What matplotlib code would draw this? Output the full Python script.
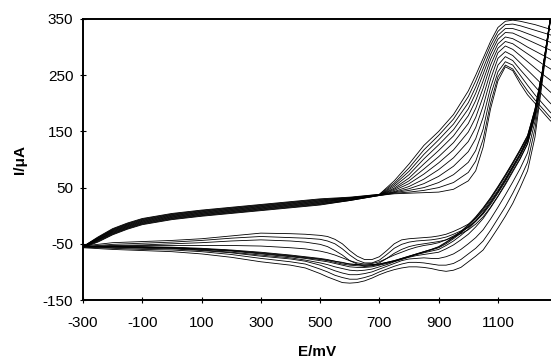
import numpy as np
import matplotlib
matplotlib.use('Agg')
import matplotlib.pyplot as plt

plt.rcParams['font.family'] = ['Liberation Sans', 'DejaVu Sans']
plt.rcParams['axes.unicode_minus'] = False

# potential grid of the forward (upper) branch, mV
fwd_e = [-300, -250, -200, -150, -100, 0, 100, 200, 300, 400, 500, 600, 700,
         750, 800, 850, 900, 950, 1000, 1025, 1050, 1075, 1100, 1125, 1150,
         1175, 1200, 1225, 1250, 1275, 1300]

# forward branch current, uA, one row per cycle (outer -> inner)
fwd_i = [
    [-55, -38, -23, -13, -5, 4, 10, 15, 20, 25, 30, 33, 38,
     62, 92, 125, 150, 180, 222, 250, 280, 310, 335, 346, 348, 346, 343, 340, 336, 332, 328],
    [-55, -39, -24, -14, -6, 3, 9, 14, 19, 24, 29, 32, 38,
     58, 85, 117, 143, 172, 212, 240, 272, 303, 328, 340, 341, 338, 334, 330, 326, 322, 318],
    [-55, -40, -25, -15, -7, 2, 8, 13, 18, 23, 28, 32, 37,
     55, 79, 109, 135, 163, 201, 229, 262, 295, 321, 333, 333, 329, 324, 319, 314, 309, 304],
    [-55, -40, -26, -16, -8, 1, 7, 12, 17, 22, 27, 31, 37,
     52, 73, 101, 126, 153, 190, 218, 252, 287, 314, 326, 325, 319, 313, 307, 301, 295, 289],
    [-55, -41, -27, -17, -9, 0, 6, 11, 16, 21, 26, 31, 37,
     49, 67, 92, 116, 142, 178, 205, 240, 278, 306, 318, 315, 308, 300, 293, 286, 279, 272],
    [-55, -42, -28, -18, -10, -1, 5, 10, 15, 20, 25, 30, 37,
     47, 62, 83, 105, 130, 164, 191, 227, 268, 298, 310, 306, 297, 288, 279, 270, 262, 254],
    [-55, -43, -29, -19, -11, -2, 4, 9, 14, 19, 24, 30, 37,
     45, 57, 74, 94, 117, 149, 175, 212, 256, 290, 302, 296, 285, 274, 263, 252, 242, 233],
    [-55, -43, -30, -20, -12, -3, 3, 8, 13, 18, 23, 29, 37,
     43, 52, 65, 82, 103, 132, 157, 195, 243, 280, 292, 285, 272, 259, 246, 233, 221, 210],
    [-56, -44, -31, -21, -13, -4, 2, 7, 12, 17, 22, 28, 37,
     42, 48, 57, 70, 88, 114, 137, 175, 228, 268, 283, 276, 260, 245, 230, 215, 201, 189],
    [-56, -45, -32, -22, -14, -5, 1, 6, 11, 16, 21, 28, 36,
     41, 45, 50, 59, 73, 95, 116, 154, 214, 256, 274, 268, 250, 232, 215, 200, 185, 172],
    [-56, -46, -33, -23, -15, -6, 0, 5, 10, 15, 20, 27, 36,
     40, 42, 45, 50, 59, 77, 97, 136, 200, 247, 268, 261, 241, 222, 206, 191, 176, 163],
    [-57, -47, -34, -24, -16, -7, -1, 4, 9, 14, 19, 27, 36,
     39, 40, 41, 42, 47, 62, 80, 122, 190, 240, 265, 258, 235, 215, 200, 185, 170, 158],
]

# potential grid of the reverse (lower) branch, mV
rev_e = [1300, 1275, 1250, 1225, 1200, 1175, 1150, 1125, 1100, 1075, 1050, 1025,
         1000, 975, 950, 925, 900, 875, 850, 825, 800, 775, 750, 725, 700, 675,
         650, 625, 600, 575, 550, 525, 500, 450, 400, 300, 200, 100, 0, -100,
         -200, -300]

# reverse branch current, uA, one row per cycle
rev_i = [
    [430, 345, 255, 185, 138, 110, 88, 66, 45, 26, 8, -5, -15, -22, -28, -33, -36,
     -38, -39, -40, -41, -43, -50, -62, -73, -78, -78, -72, -62, -50, -42, -37, -35,
     -33, -32, -31, -36, -41, -44, -46, -48, -54],
    [425, 343, 252, 180, 133, 106, 84, 61, 40, 20, 3, -10, -20, -27, -33, -38, -41,
     -43, -44, -45, -47, -51, -58, -69, -79, -84, -84, -79, -70, -59, -50, -45, -42,
     -40, -39, -37, -40, -44, -47, -49, -51, -55],
    [420, 340, 250, 176, 128, 102, 80, 57, 35, 15, -2, -15, -25, -32, -38, -43, -46,
     -48, -50, -52, -55, -60, -67, -76, -84, -89, -90, -86, -80, -70, -62, -55, -51,
     -47, -45, -43, -45, -48, -50, -52, -53, -55],
    [420, 342, 245, 155, 95, 66, 40, 16, -5, -26, -45, -58, -68, -78, -85, -88, -88,
     -86, -84, -83, -83, -86, -90, -95, -100, -106, -110, -113, -113, -110, -106, -100,
     -95, -86, -82, -76, -69, -64, -61, -60, -58, -56],
    [420, 340, 240, 140, 80, 50, 22, -1, -22, -42, -61, -72, -82, -92, -97, -99, -97,
     -94, -92, -91, -91, -93, -96, -100, -105, -111, -116, -119, -120, -119, -114, -109,
     -103, -93, -88, -82, -74, -68, -64, -62, -60, -57],
    [418, 343, 250, 168, 112, 84, 60, 37, 15, -6, -25, -39, -50, -60, -68, -73, -76,
     -76, -75, -76, -77, -80, -85, -90, -95, -100, -103, -105, -105, -102, -98, -93,
     -88, -81, -77, -72, -66, -62, -59, -58, -57, -55],
    [417, 344, 254, 178, 128, 101, 78, 55, 34, 14, -5, -20, -33, -43, -52, -59, -65,
     -67, -69, -71, -74, -78, -82, -87, -91, -95, -97, -98, -97, -94, -91, -87, -84,
     -79, -75, -70, -65, -61, -58, -57, -56, -55],
    [416, 344, 256, 184, 136, 110, 87, 64, 43, 23, 5, -10, -24, -35, -45, -53, -60,
     -63, -66, -69, -73, -77, -81, -85, -88, -91, -92, -92, -91, -88, -85, -82, -80,
     -76, -73, -68, -63, -60, -57, -56, -55, -55],
    [415, 345, 257, 188, 140, 115, 92, 70, 49, 29, 11, -5, -19, -31, -41, -50, -57,
     -61, -65, -69, -73, -77, -81, -84, -87, -89, -90, -89, -88, -86, -83, -80, -78,
     -75, -72, -67, -62, -59, -57, -56, -55, -55],
    [415, 345, 258, 189, 142, 117, 94, 72, 51, 31, 13, -3, -17, -29, -39, -48, -56,
     -60, -64, -68, -72, -76, -80, -83, -86, -87, -88, -87, -86, -84, -81, -78, -76,
     -73, -70, -65, -61, -58, -56, -55, -55, -55],
    [418, 342, 252, 182, 134, 109, 86, 63, 42, 23, 5, -9, -21, -29, -36, -43, -48,
     -51, -53, -56, -60, -65, -70, -76, -82, -85, -86, -84, -80, -75, -70, -66, -63,
     -59, -57, -54, -53, -53, -53, -53, -54, -55],
    [415, 345, 258, 190, 143, 118, 95, 73, 52, 32, 14, -2, -16, -28, -38, -47, -55,
     -60, -64, -68, -72, -76, -80, -83, -86, -87, -88, -87, -86, -83, -81, -79, -77,
     -74, -71, -66, -62, -59, -57, -56, -55, -55],
]

x_ticks = [-300, -100, 100, 300, 500, 700, 900, 1100]
y_ticks = [-150, -50, 50, 150, 250, 350]

fig = plt.figure(figsize=(5.51, 3.62), dpi=100)
ax = fig.add_axes([83 / 551, 62 / 362, 468 / 551, 281 / 362])

for k in range(len(fwd_i)):
    e = np.concatenate([fwd_e, rev_e])
    i = np.concatenate([fwd_i[k], rev_i[k]])
    ax.plot(e, i, color='black', lw=0.6, solid_joinstyle='round')

ax.set_xlim(-300, 1279)
ax.set_ylim(-150, 350)
ax.set_xticks(x_ticks)
ax.set_yticks(y_ticks)
ax.spines['right'].set_visible(False)
for s in ['left', 'bottom', 'top']:
    ax.spines[s].set_linewidth(1.4)
ax.tick_params(axis='x', direction='inout', length=5, width=0.8, pad=9, labelsize=11)
ax.tick_params(axis='y', direction='inout', length=4, width=0.8, pad=5, labelsize=11)

ax.set_xlabel('E/mV', fontsize=11, fontweight='bold')
ax.set_ylabel('I/\u03bcA', fontsize=11, fontweight='bold')
ax.xaxis.set_label_coords(0.5, -0.185)
ax.xaxis.label.set_va('center')
ax.yaxis.set_label_coords(-0.135, 0.5)
ax.yaxis.label.set_va('center')

fig.savefig('out.png', dpi=100)
